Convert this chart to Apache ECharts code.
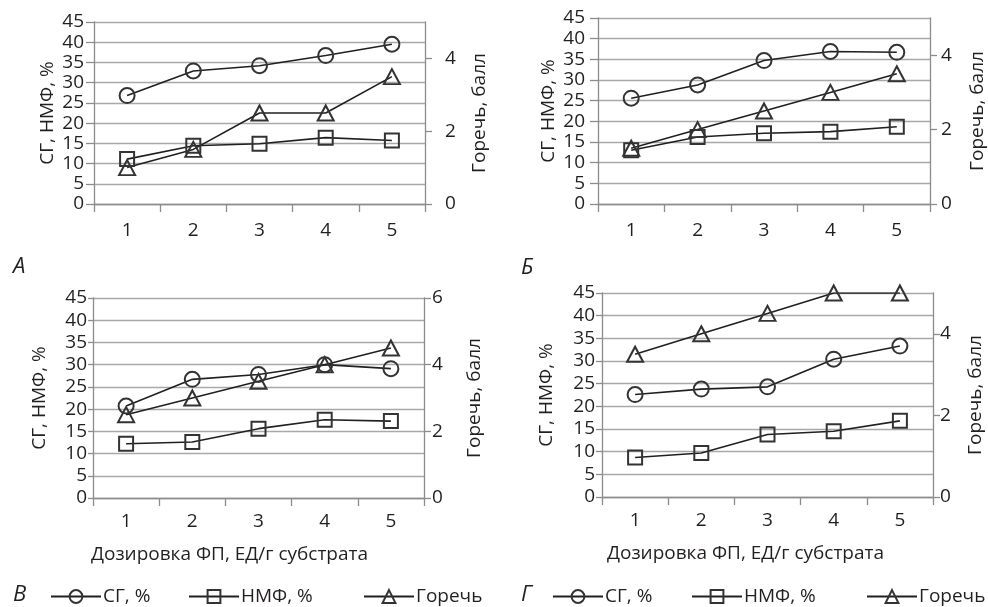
<!DOCTYPE html>
<html>
<head>
<meta charset="utf-8">
<script src="https://cdn.jsdelivr.net/npm/echarts@6/dist/echarts.min.js"></script>
<style>
html,body{margin:0;padding:0;background:#fff;}
#c{width:988px;height:607px;}
</style>
</head>
<body>
<div id="c"></div>
<script>
// ---- data ----
var categories = ['1', '2', '3', '4', '5'];
var seriesNames = ['СГ, %', 'НМФ, %', 'Горечь'];
var panelLetters = ['А', 'Б', 'В', 'Г'];
var leftAxisName = 'СГ, НМФ, %';
var rightAxisName = 'Горечь, балл';
var xAxisName = 'Дозировка ФП, ЕД/г субстрата';

// Panel А
var sgA = [26.8, 32.9, 34.2, 36.7, 39.5];
var nmfA = [11.1, 14.4, 14.9, 16.4, 15.7];
var gorA = [1, 1.5, 2.5, 2.5, 3.5];
// Panel Б
var sgB = [25.6, 28.8, 34.7, 36.9, 36.7];
var nmfB = [13.0, 16.2, 17.1, 17.5, 18.7];
var gorB = [1.5, 2, 2.5, 3, 3.5];
// Panel В
var sgV = [20.7, 26.7, 27.8, 30.0, 29.1];
var nmfV = [12.2, 12.6, 15.6, 17.6, 17.3];
var gorV = [2.5, 3, 3.5, 4, 4.5];
// Panel Г
var sgG = [22.6, 23.8, 24.3, 30.4, 33.3];
var nmfG = [8.7, 9.7, 13.8, 14.5, 16.8];
var gorG = [3.5, 4, 4.5, 5, 5];

var leftTicks = [0, 5, 10, 15, 20, 25, 30, 35, 40, 45];
var rightTicksABG = [0, 2, 4];
var rightTicksV = [0, 2, 4, 6];

// ---- layout / style ----
var FONT = 'Open Sans';
var FS = 19;
var TXT = '#231f20';
var AX = '#8c8c8c';
var GRID = '#a8a8a8';
var INK = '#231f20';

var panels = [
  {sg: sgA, nmf: nmfA, gor: gorA, rmax: 5, rticks: rightTicksABG, showX: false,
   grid: {left: 94, top: 22, width: 331, height: 182},
   lGap: 37, rGap: 45, lMargin: 10, rMargin: 20, lTick: 8, xMargin: 17},
  {sg: sgB, nmf: nmfB, gor: gorB, rmax: 5, rticks: rightTicksABG, showX: false,
   grid: {left: 598, top: 18, width: 332, height: 186},
   lGap: 40, rGap: 38, lMargin: 13, rMargin: 11, lTick: 8, xMargin: 17},
  {sg: sgV, nmf: nmfV, gor: gorV, rmax: 6, rticks: rightTicksV, showX: true, xPadR: 58,
   grid: {left: 93, top: 298, width: 331, height: 200},
   lGap: 44, rGap: 41, lMargin: 6, rMargin: 8, lTick: 5, xMargin: 14},
  {sg: sgG, nmf: nmfG, gor: gorG, rmax: 5, rticks: rightTicksABG, showX: true, xPadR: 44,
   grid: {left: 602, top: 293, width: 331, height: 204},
   lGap: 46, rGap: 33, lMargin: 7, rMargin: 7, lTick: 6, xMargin: 14}
];

var grids = [], xAxes = [], yAxes = [], series = [];
var symbols = ['circle', 'rect', 'triangle'];

panels.forEach(function (p, i) {
  grids.push({left: p.grid.left, top: p.grid.top, width: p.grid.width, height: p.grid.height, containLabel: false});
  xAxes.push({
    type: 'category', gridIndex: i, data: categories, boundaryGap: true,
    axisLine: {lineStyle: {color: AX, width: 1.3}},
    axisTick: {show: true, length: 8, alignWithLabel: false, interval: 0, lineStyle: {color: AX, width: 1.3}},
    axisLabel: {color: TXT, fontSize: FS, fontFamily: FONT, margin: p.xMargin, interval: 0},
    splitLine: {show: false},
    name: p.showX ? xAxisName : '',
    nameLocation: 'middle', nameGap: 47,
    nameTextStyle: {color: TXT, fontSize: FS, fontFamily: FONT, padding: [0, p.xPadR || 0, 0, 0]}
  });
  yAxes.push({
    type: 'value', gridIndex: i, position: 'left', min: 0, max: 45, interval: 5,
    axisLine: {show: true, lineStyle: {color: AX, width: 1.3}},
    axisTick: {show: true, length: p.lTick, lineStyle: {color: AX, width: 1.3}},
    axisLabel: {color: TXT, fontSize: FS, fontFamily: FONT, margin: p.lMargin, customValues: leftTicks},
    splitLine: {show: true, lineStyle: {color: GRID, width: 1.3}},
    name: leftAxisName, nameLocation: 'middle', nameRotate: 90, nameGap: p.lGap,
    nameTextStyle: {color: TXT, fontSize: FS, fontFamily: FONT}
  });
  yAxes.push({
    type: 'value', gridIndex: i, position: 'right', min: 0, max: p.rmax, interval: 2,
    axisLine: {show: true, lineStyle: {color: AX, width: 1.3}},
    axisTick: {show: true, length: 7, customValues: p.rticks, lineStyle: {color: AX, width: 1.3}},
    axisLabel: {color: TXT, fontSize: FS, fontFamily: FONT, margin: p.rMargin, customValues: p.rticks},
    splitLine: {show: false},
    name: rightAxisName, nameLocation: 'middle', nameRotate: 90, nameGap: p.rGap,
    nameTextStyle: {color: TXT, fontSize: FS, fontFamily: FONT}
  });
  var vals = [p.sg, p.nmf, p.gor];
  vals.forEach(function (v, k) {
    series.push({
      name: seriesNames[k], type: 'line', xAxisIndex: i,
      yAxisIndex: k === 2 ? 2 * i + 1 : 2 * i,
      data: v, symbol: symbols[k], symbolSize: k === 1 ? 14 : (k === 2 ? [16, 15] : 15),
      showSymbol: true, animation: false,
      lineStyle: {color: INK, width: 1.6},
      itemStyle: {color: 'rgba(0,0,0,0)', borderColor: '#333333', borderWidth: 2},
      emphasis: {disabled: true}
    });
  });
});

var legendStarts = [
  [50, 188, 363],
  [552, 691, 866]
];
var legends = [];
legendStarts.forEach(function (row) {
  row.forEach(function (x, k) {
    legends.push({
      data: [seriesNames[k]], left: x, top: 587, itemWidth: 50, itemHeight: 16, itemGap: 0,
      textStyle: {color: TXT, fontSize: FS, fontFamily: FONT, padding: [0, 0, 0, -3]},
      selectedMode: false, padding: 0
    });
  });
});

var letterPos = [[13, 256], [521, 257], [13, 584], [521, 584]];
var titles = panelLetters.map(function (t, i) {
  return {text: t, left: letterPos[i][0], top: letterPos[i][1], padding: 0,
          textStyle: {color: TXT, fontSize: 22, fontStyle: 'italic', fontWeight: 'normal', fontFamily: FONT}};
});

var chart = echarts.init(document.getElementById('c'), null, {renderer: 'canvas'});
chart.setOption({
  animation: false,
  backgroundColor: '#ffffff',
  textStyle: {fontFamily: FONT},
  title: titles,
  legend: legends,
  grid: grids,
  xAxis: xAxes,
  yAxis: yAxes,
  series: series
});
</script>
</body>
</html>
